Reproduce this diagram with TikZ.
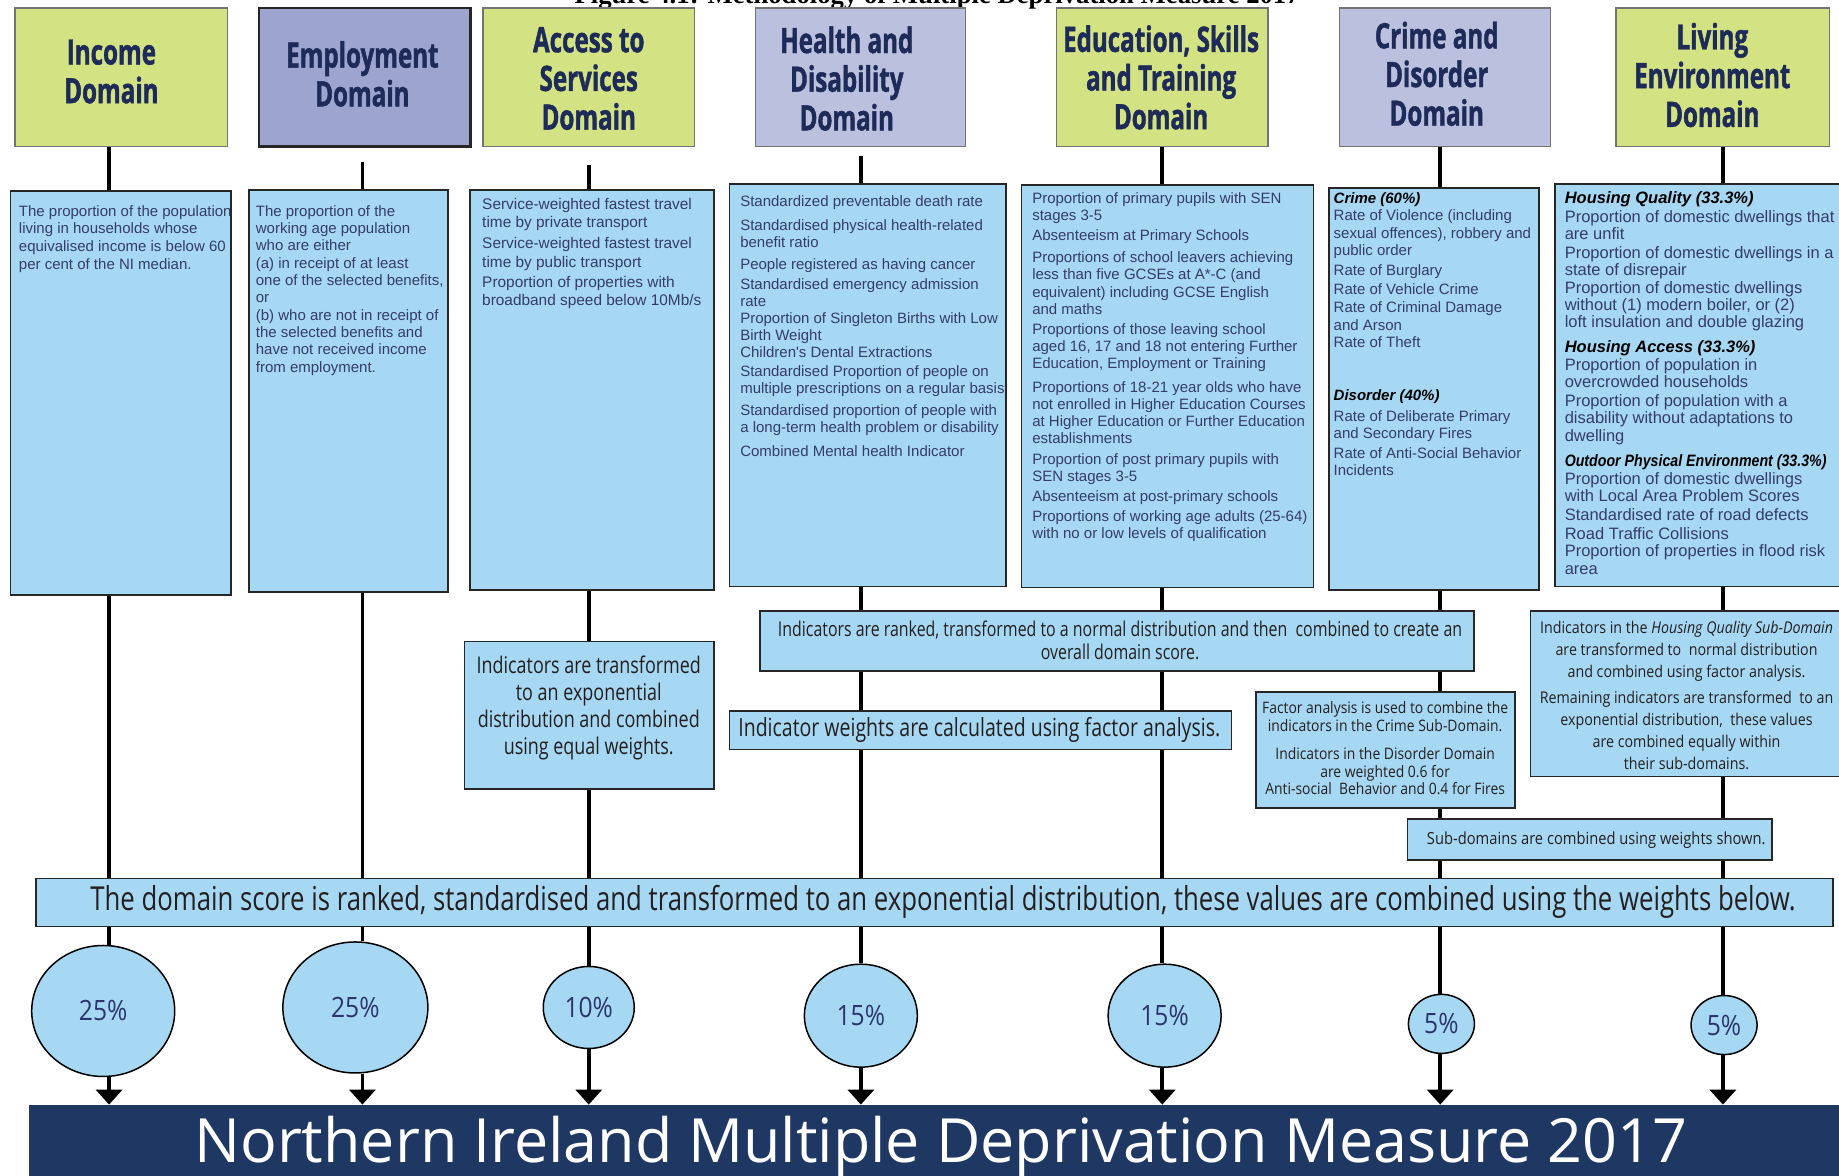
\documentclass[tikz,border=0pt]{standalone}
\usepackage{fontspec}
\usetikzlibrary{shapes.geometric,arrows.meta,fit}
\setmainfont{Liberation Sans}
\newfontfamily\hdfont{Open Sans}[FakeStretch=0.69,BoldFeatures={FakeBold=1.2}]
\newfontfamily\ntfont{Open Sans}[FakeStretch=0.78]
\newfontfamily\rgfont{Open Sans}[FakeStretch=0.88]
\newfontfamily\bnfont{Open Sans}[FakeStretch=1.0]
\newfontfamily\ttlfont{Liberation Serif}
\newfontfamily\indfont{Liberation Sans}
\definecolor{ygreen}{HTML}{D3E283}
\definecolor{lav}{HTML}{BBC0DE}
\definecolor{lavdk}{HTML}{9DA5CF}
\definecolor{lblue}{HTML}{A7D8F3}
\definecolor{navy}{HTML}{1F3763}
\definecolor{hdtext}{HTML}{1E2A58}
\definecolor{indtext}{HTML}{353C68}
\definecolor{nttext}{HTML}{231F20}
\definecolor{circtext}{HTML}{2B356B}
\pgfdeclarelayer{bg}
\pgfsetlayers{bg,main}
\newcommand\fs[2]{\fontsize{#1}{#2}\selectfont}
\newcommand\conseg[4][]{\draw[conn,#1] (#2.south -| #4) -- (#3.north -| #4);}
\begin{document}
\begin{tikzpicture}[x=1.1728pt,y=-1.1728pt,
  hbox/.style={draw=black!55, fill=#1, line width=1.5pt, inner sep=0pt},
  ibox/.style={draw=black!85, fill=lblue, line width=1.8pt, inner sep=0pt},
  hdtxt/.style={align=center, text=hdtext, font=\hdfont\bfseries\fs{35}{38.7}, inner sep=0pt},
  indtxt/.style={anchor=north west, inner sep=0pt, align=left, text=indtext},
  nttxt/.style={align=center, inner sep=0pt, text=nttext},
  wcirc/.style={ellipse, draw=black, line width=1.5pt, fill=lblue, inner sep=0pt, text=circtext, font=\rgfont\fs{28}{30}},
  conn/.style={draw=black, line width=3.6pt},
  arr/.style={conn, -{Triangle[length=15pt,width=26pt]}}]
\useasboundingbox (0,0) rectangle (1568,1002);
\clip (0,0) rectangle (1568,1002);
\begin{pgfonlayer}{bg}
\fill[white] (0,0) rectangle (1568,1002);
\end{pgfonlayer}

% column axes
\coordinate (c1) at (93,0);
\coordinate (c2) at (309,0);
\coordinate (c3) at (502,0);
\coordinate (c4) at (734,0);
\coordinate (c5) at (991,0);
\coordinate (c6) at (1228,0);
\coordinate (c7) at (1469,0);

% title (cut off at the top)
\node[anchor=base, inner sep=0pt, font=\ttlfont\bfseries\fs{26.7}{30}] (title) at (799,3) {Figure 4.1: Methodology of Multiple Deprivation Measure 2017};

% header boxes
\node[hbox=ygreen, fit={(13,7) (194,125)}] (h1) {};
\node[hbox=lavdk, draw=black!85, line width=2.4pt, fit={(221,7) (401,125)}] (h2) {};
\node[hbox=ygreen, fit={(412,7) (592,125)}] (h3) {};
\node[hbox=lav, fit={(644,7) (823,125)}] (h4) {};
\node[hbox=ygreen, fit={(901,7) (1081,125)}] (h5) {};
\node[hbox=lav, fit={(1142,7) (1322,125)}] (h6) {};
\node[hbox=ygreen, fit={(1378,7) (1560,125)}] (h7) {};
\node[hdtxt] (h1t) at (95,61) {Income\\Domain};
\node[hdtxt] (h2t) at (309,63) {Employment\\Domain};
\node[hdtxt] (h3t) at (502,67) {Access to\\Services\\Domain};
\node[hdtxt] (h4t) at (722,67) {Health and\\Disability\\Domain};
\node[hdtxt] (h5t) at (990,66) {Education, Skills\\and Training\\Domain};
\node[hdtxt] (h6t) at (1225,63) {Crime and\\Disorder\\Domain};
\node[hdtxt] (h7t) at (1460,64) {Living\\Environment\\Domain};

% indicator boxes
\node[ibox, fit={(9,163) (197,507)}] (i1) {};
\node[ibox, fit={(212,162) (382,505)}] (i2) {};
\node[ibox, fit={(401,162) (609,503)}] (i3) {};
\node[ibox, fit={(622,157) (858,500)}] (i4) {};
\node[ibox, fit={(871,158) (1120,501)}] (i5) {};
\node[ibox, fit={(1133,160) (1312,503)}] (i6) {};
\node[ibox, fit={(1326,157) (1620,500)}] (i7) {};

\node[indtxt, font=\indfont\fs{15}{17.6}] (i1t) at (16,175) {The proportion of the population\\living in households whose\\equivalised income is below 60\\per cent of the NI median.};
\node[indtxt, font=\indfont\fs{15}{17.3}] (i2t) at (218,175) {The proportion of the\\working age population\\who are either\\(a) in receipt of at least\\one of the selected benefits,\\or\\(b) who are not in receipt of\\the selected benefits and\\have not received income\\from employment.};
\node[indtxt, font=\indfont\fs{15.4}{18.2}] (i3t) at (411,169) {Service-weighted fastest travel\\time by private transport\\[2.9pt]Service-weighted fastest travel\\time by public transport\\[1.8pt]Proportion of properties with\\broadband speed below 10Mb/s};
\node[indtxt, font=\indfont\fs{15}{17}] (i4t) at (631,167) {Standardized preventable death rate\\[6.4pt]Standardised physical health-related\\benefit ratio\\[5.3pt]People registered as having cancer\\[2.9pt]Standardised emergency admission\\rate\\Proportion of Singleton Births with Low\\Birth Weight\\Children's Dental Extractions\\[1.8pt]Standardised Proportion of people on\\multiple prescriptions on a regular basis\\[5.3pt]Standardised proportion of people with\\a long-term health problem or disability\\[6.4pt]Combined Mental health Indicator};
\node[indtxt, font=\indfont\fs{15}{17.2}] (i5t) at (880,164) {Proportion of primary pupils with SEN\\stages 3-5\\[2.7pt]Absenteeism at Primary Schools\\[5pt]Proportions of school leavers achieving\\less than five GCSEs at A*-C (and\\equivalent) including GCSE English\\and maths\\[2.7pt]Proportions of those leaving school\\aged 16, 17 and 18 not entering Further\\Education, Employment or Training\\[6.2pt]Proportions of 18-21 year olds who have\\not enrolled in Higher Education Courses\\at Higher Education or Further Education\\establishments\\[3.9pt]Proportion of post primary pupils with\\SEN stages 3-5\\[2.7pt]Absenteeism at post-primary schools\\[2.7pt]Proportions of working age adults (25-64)\\with no or low levels of qualification};
\node[indtxt, font=\indfont\fs{15}{17.3}] (i6t) at (1137,164) {{\color{black}\bfseries\itshape Crime (60\%)}\\Rate of Violence (including\\sexual offences), robbery and\\public order\\[2.6pt]Rate of Burglary\\[1.5pt]Rate of Vehicle Crime\\[1.5pt]Rate of Criminal Damage\\and Arson\\Rate of Theft\\[35.5pt]{\color{black}\bfseries\itshape Disorder (40\%)}\\[3.8pt]Rate of Deliberate Primary\\and Secondary Fires\\[2.6pt]Rate of Anti-Social Behavior\\Incidents};
\node[indtxt, font=\indfont\fs{16.5}{17.4}] (i7t) at (1334,163) {{\color{black}\bfseries\itshape Housing Quality (33.3\%)}\\[1.4pt]Proportion of domestic dwellings that\\are unfit\\[1.4pt]Proportion of domestic dwellings in a\\state of disrepair\\Proportion of domestic dwellings\\without (1) modern boiler, or (2)\\loft insulation and double glazing\\[7.3pt]{\color{black}\bfseries\itshape Housing Access (33.3\%)}\\Proportion of population in\\overcrowded households\\[1.4pt]Proportion of population with a\\disability without adaptations to\\dwelling\\[8.4pt]{\color{black}\bfseries\itshape\scalebox{0.86}[1]{Outdoor Physical Environment (33.3\%)}}\\Proportion of domestic dwellings\\with Local Area Problem Scores\\[1.4pt]Standardised rate of road defects\\[1.4pt]Road Traffic Collisions\\Proportion of properties in flood risk\\area};

% process notes
\node[ibox, fit={(396,547) (609,673)}] (n3) {};
\node[nttxt, font=\ntfont\fs{23}{27}] (n3t) at (502,604) {Indicators are transformed\\to an exponential\\distribution and combined\\using equal weights.};
\node[ibox, fit={(648,521) (1257,572)}] (rk) {};
\node[nttxt, font=\ntfont\fs{20.4}{23.5}] (rkt) at (955,546) {Indicators are ranked, transformed to a normal distribution and then\ \ combined to create an\\overall domain score.};
\node[ibox, fit={(622,606) (1050,639)}] (wt) {};
\node[nttxt, font=\ntfont\fs{25}{28}] (wtt) at (835,622.5) {Indicator weights are calculated using factor analysis.};
\node[ibox, fit={(1071,590) (1292,689)}] (fa) {};
\node[nttxt, font=\rgfont\fs{15.8}{17.6}] (fat) at (1181,638) {Factor analysis is used to combine the\\indicators in the Crime Sub-Domain.\\[10.5pt]Indicators in the Disorder Domain\\are weighted 0.6 for\\Anti-social\ \ Behavior and 0.4 for Fires};
\node[ibox, fit={(1305,521) (1620,662)}] (hq) {};
\node[nttxt, font=\rgfont\fs{16.2}{22}] (hqt) at (1438,593) {Indicators in the \textit{Housing Quality Sub-Domain}\\are transformed to\ \ normal distribution\\and combined using factor analysis.\\[4pt]Remaining indicators are transformed\ \ to an\\exponential distribution,\ \ these values\\are combined equally within\\their sub-domains.};
\node[ibox, fit={(1200,698) (1511,733)}] (sd) {};
\node[nttxt, font=\rgfont\fs{16.7}{20}] (sdt) at (1361,716) {Sub-domains are combined using weights shown.};

% combining bar
\node[ibox, fit={(31,749) (1563,790)}] (bar) {};
\node[nttxt, font=\ntfont\fs{33}{36}] (bart) at (804,769) {The domain score is ranked, standardised and transformed to an exponential distribution, these values are combined using the weights below.};

% weights
\node[wcirc, minimum width=143pt, minimum height=131pt] (e1) at (88,862) {25\%};
\node[wcirc, minimum width=145pt, minimum height=131pt] (e2) at (303,859) {25\%};
\node[wcirc, minimum width=91pt, minimum height=82pt] (e3) at (502,859) {10\%};
\node[wcirc, minimum width=113pt, minimum height=103pt] (e4) at (734,866) {15\%};
\node[wcirc, minimum width=113pt, minimum height=103pt] (e5) at (993,866) {15\%};
\node[wcirc, minimum width=66pt, minimum height=59pt] (e6) at (1229,873) {5\%};
\node[wcirc, minimum width=66pt, minimum height=59pt] (e7) at (1470,874) {5\%};

% banner
\node[fill=navy, inner sep=0pt, fit={(25,942) (1620,1015)}] (ban) {};
\node[anchor=base, inner sep=0pt, text=white, font=\bnfont\fs{61}{64}] (bant) at (802,991) {Northern Ireland Multiple Deprivation Measure 2017};

% connectors
\begin{pgfonlayer}{bg}
\conseg{h1}{i1}{c1} \conseg{i1}{bar}{c1} \conseg{bar}{e1}{c1}
\conseg[shorten <=14pt]{h2}{i2}{c2} \conseg{i2}{bar}{c2} \conseg{bar}{e2}{c2}
\conseg[shorten <=18pt]{h3}{i3}{c3} \conseg{i3}{n3}{c3} \conseg{n3}{bar}{c3} \conseg{bar}{e3}{c3}
\conseg[shorten <=9pt]{h4}{i4}{c4} \conseg{i4}{rk}{c4} \conseg{rk}{wt}{c4} \conseg{wt}{bar}{c4} \conseg{bar}{e4}{c4}
\conseg{h5}{i5}{c5} \conseg{i5}{rk}{c5} \conseg{rk}{wt}{c5} \conseg{wt}{bar}{c5} \conseg{bar}{e5}{c5}
\conseg{h6}{i6}{c6} \conseg{i6}{rk}{c6} \conseg{rk}{fa}{c6} \conseg{fa}{sd}{c6} \conseg{sd}{bar}{c6} \conseg{bar}{e6}{c6}
\conseg{h7}{i7}{c7} \conseg{i7}{hq}{c7} \conseg{hq}{sd}{c7} \conseg{sd}{bar}{c7} \conseg{bar}{e7}{c7}
\foreach \k in {1,...,7} {
  \draw[arr] (e\k.south -| c\k) -- (ban.north -| c\k);
}
\end{pgfonlayer}
\end{tikzpicture}
\end{document}
